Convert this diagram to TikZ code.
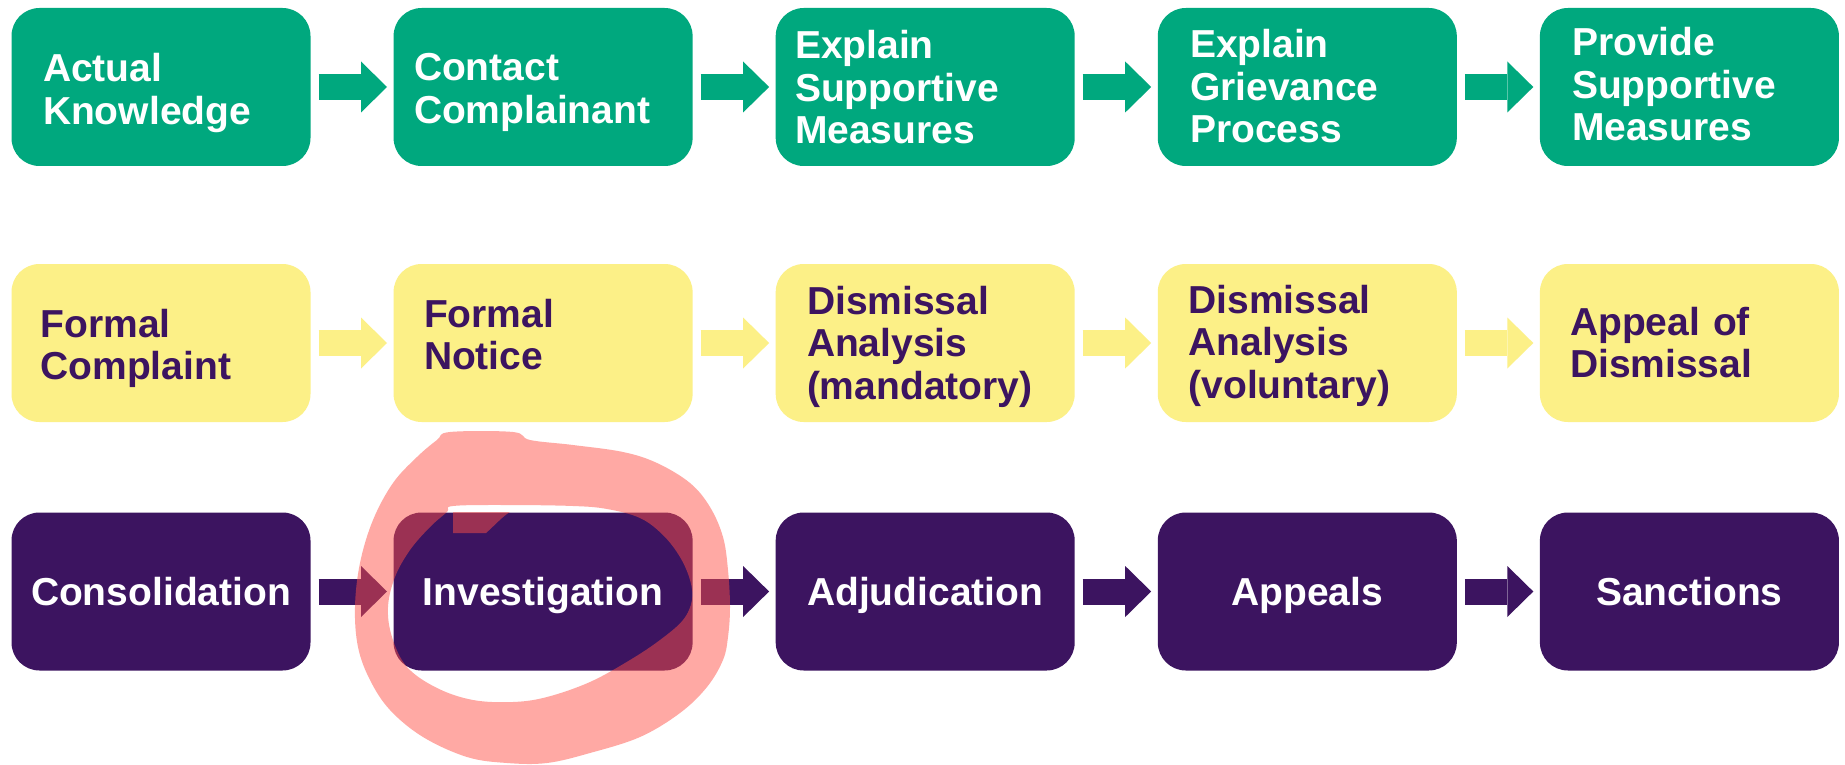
\documentclass[tikz,border=0pt]{standalone}
\usepackage{fontspec}
\setmainfont{Liberation Sans}
\usetikzlibrary{arrows.meta}
\definecolor{tgreen}{HTML}{00A87E}
\definecolor{tyellow}{HTML}{FCF087}
\definecolor{tpurple}{HTML}{3C1460}
\definecolor{hilite}{RGB}{255,81,71}
\begin{document}
\begin{tikzpicture}[x=1pt,y=-1pt,
  box/.style={rounded corners=28pt, minimum width=299pt, minimum height=158pt, inner sep=0pt, outer sep=0pt},
  gbox/.style={box, fill=tgreen},
  ybox/.style={box, fill=tyellow},
  pbox/.style={box, fill=tpurple},
  lbl/.style={font=\fontsize{39}{42.5}\selectfont\bfseries, inner sep=0pt, outer sep=0pt},
  ltxt/.style={lbl, anchor=base west, text width=290pt, align=left},
  wtxt/.style={ltxt, text=white},
  ptxt/.style={ltxt, text=tpurple},
  ctxt/.style={lbl, anchor=base, text=white},
  arr/.style={line width=26pt, -{Triangle[length=26pt,width=51pt,line width=0pt]}, shorten <=8pt, shorten >=6.6pt}]
\useasboundingbox (0,0) rectangle (1845,765);
\fill[white] (0,0) rectangle (1845,765);
% top row
\node[gbox] (a1) at (161,87) {};
\node[gbox] (a2) at (543.1,87) {};
\node[gbox] (a3) at (925.2,87) {};
\node[gbox] (a4) at (1307.3,87) {};
\node[gbox] (a5) at (1689.4,87) {};
% middle row
\node[ybox] (b1) at (161,343) {};
\node[ybox] (b2) at (543.1,343) {};
\node[ybox] (b3) at (925.2,343) {};
\node[ybox] (b4) at (1307.3,343) {};
\node[ybox] (b5) at (1689.4,343) {};
% bottom row
\node[pbox] (c1) at (161,591.5) {};
\node[pbox] (c2) at (543.1,591.5) {};
\node[pbox] (c3) at (925.2,591.5) {};
\node[pbox] (c4) at (1307.3,591.5) {};
\node[pbox] (c5) at (1689.4,591.5) {};
% arrows
\draw[arr, tgreen] (a1) -- (a2);
\draw[arr, tgreen] (a2) -- (a3);
\draw[arr, tgreen] (a3) -- (a4);
\draw[arr, tgreen] (a4) -- (a5);
\draw[arr, tyellow] (b1) -- (b2);
\draw[arr, tyellow] (b2) -- (b3);
\draw[arr, tyellow] (b3) -- (b4);
\draw[arr, tyellow] (b4) -- (b5);
\draw[arr, tpurple] (c1) -- (c2);
\draw[arr, tpurple] (c2) -- (c3);
\draw[arr, tpurple] (c3) -- (c4);
\draw[arr, tpurple] (c4) -- (c5);
% texts
\node[wtxt] (ta1) at (43,82) {Actual\\Knowledge};
\node[wtxt] (ta2) at (414,81) {Contact\\Complainant};
\node[wtxt] (ta3) at (795,59) {Explain\\Supportive\\Measures};
\node[wtxt] (ta4) at (1190,58) {Explain\\Grievance\\Process};
\node[wtxt] (ta5) at (1572,56) {Provide\\Supportive\\Measures};
\node[ptxt] (tb1) at (40.5,337) {Formal\\Complaint};
\node[ptxt] (tb2) at (424,327) {Formal\\Notice};
\node[ptxt] (tb3) at (807,314) {Dismissal\\Analysis\\(mandatory)};
\node[ptxt] (tb4) at (1188.5,313) {Dismissal\\Analysis\\(voluntary)};
\node[ptxt] (tb5) at (1570,335) {Appeal of\\Dismissal};
\node[ctxt] (tc1) at (161,605) {Consolidation};
\node[ctxt] (tc2) at (543.1,605) {Investigation};
\node[ctxt] (tc3) at (925.2,605) {Adjudication};
\node[ctxt] (tc4) at (1307.3,605) {Appeals};
\node[ctxt] (tc5) at (1689.4,605) {Sanctions};
% hand-drawn highlight ring
\fill[hilite, fill opacity=0.49, even odd rule]
  plot[smooth cycle, tension=0.6] coordinates {
    (437,440) (450,432) (513,432) (530,440) (573,445) (623,452) (657,463)
    (690,483) (710,507) (723,537) (728,570) (730,607) (728,637) (723,660)
    (707,687) (680,713) (640,737) (590,753) (547,763) (507,763) (467,757)
    (423,737) (390,710) (370,680) (358,647) (355,607) (360,563) (373,520)
    (393,483) (417,457)}
  plot[smooth cycle, tension=0.6] coordinates {
    (453,506) (507,505) (573,506) (607,509) (640,518) (663,535) (680,557)
    (690,580) (692,600) (683,620) (660,640) (630,660) (590,682) (547,697)
    (513,702) (473,700) (437,688) (407,667) (392,637) (388,607) (395,577)
    (410,550) (430,527) (447,512)};
\fill[hilite, fill opacity=0.49]
  (453,512) -- (453,533) -- (486,533) .. controls (495,525) and (503,516) .. (510,512) -- cycle;
\end{tikzpicture}
\end{document}
